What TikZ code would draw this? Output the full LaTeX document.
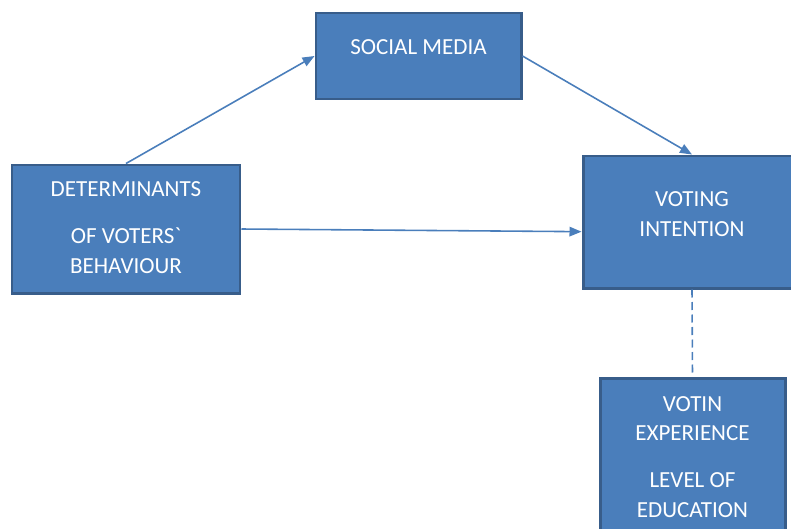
\documentclass[tikz,border=0pt]{standalone}
\usepackage{fontspec}
\setmainfont{Carlito}
\usepackage{xcolor}
\usepackage{tikz}
\usetikzlibrary{shapes,arrows.meta,positioning,calc}

\definecolor{boxfill}{HTML}{4A7EBB}
\definecolor{boxline}{HTML}{385D8A}
\definecolor{linkcol}{HTML}{4A7EBB}

\begin{document}
\begin{tikzpicture}[
  box/.style={draw=boxline,fill=boxfill,line width=1.7pt,rectangle},
  lbl/.style={text=white,align=center,font=\fontsize{13.1}{17}\selectfont},
  link/.style={draw=linkcol,line width=0.9pt,-{Triangle[length=0.24cm,width=0.19cm]}}
]
  \clip (0,0) rectangle (15.82,-10.56);

  \node[box,minimum width=4.1cm,minimum height=1.72cm] (social) at (8.37,-1.12) {};
  \node[box,minimum width=4.56cm,minimum height=2.56cm] (det) at (2.52,-4.58) {};
  \node[box,minimum width=4.36cm,minimum height=2.64cm] (voting) at (13.84,-4.44) {};
  \node[box,minimum width=3.7cm,minimum height=3.7cm] (control) at (13.85,-9.41) {};

  \node[lbl] (socialtxt) at (8.37,-0.94) {SOCIAL MEDIA};
  \node[lbl] (dettxt) at (2.52,-4.55) {DETERMINANTS\\[0.36cm]OF VOTERS\textasciigrave\\BEHAVIOUR};
  \node[lbl] (votingtxt) at (13.84,-4.28) {VOTING\\INTENTION};
  \node[lbl] (controltxt) at (13.85,-9.14) {VOTIN\\EXPERIENCE\\[0.34cm]LEVEL OF\\EDUCATION};

  \draw[link] (det.north) -- (social.west);
  \draw[link] (social.east) -- (voting.north);
  \draw[link] (det.east) -- (voting.185);
  \draw[draw=linkcol,line width=0.9pt,dash pattern=on 0.16cm off 0.09cm] (voting.south) -- (control.north);
\end{tikzpicture}
\end{document}
